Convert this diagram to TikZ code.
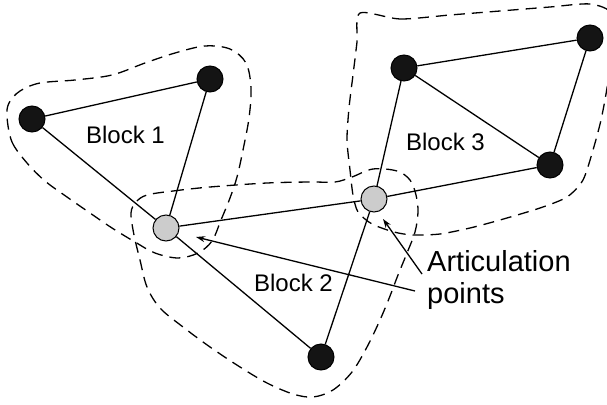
\documentclass[tikz,border=0pt]{standalone}
\usepackage{fontspec}
\setmainfont{Liberation Sans}
\usetikzlibrary{arrows.meta}
\begin{document}
\begin{tikzpicture}[x=1pt,y=-1pt,
  vtx/.style={circle,draw=black,line width=1pt,minimum size=26pt,inner sep=0pt},
  blk/.style={vtx,fill=black!92},
  art/.style={vtx,fill=black!20},
  edge/.style={line width=1.3pt},
  contour/.style={dash pattern=on 11pt off 7pt, line width=1.3pt},
  lbl/.style={font=\fontsize{24}{28}\selectfont, inner sep=0pt, anchor=base},
  pointer/.style={line width=1.3pt,-{Stealth[length=9pt,width=6pt]}}
]
\useasboundingbox (0,0) rectangle (607,404);
\begin{scope}
\clip (0,0) rectangle (607,404);
% Block 1 contour
\draw[contour] plot[smooth cycle, tension=0.55] coordinates {
 (7,117) (12,142) (27,163) (45,181) (67,197) (90,213) (112,228) (135,242)
 (155,253) (178,258) (198,253) (212,241) (221,220) (230,198) (237,177)
 (243,150) (249,118) (251,88) (246,63) (230,49) (205,46) (175,53) (145,63)
 (112,75) (75,80) (40,83) (20,91) (9,103)};
% Block 2 contour
\draw[contour] plot[smooth cycle, tension=0.55] coordinates {
 (147,195) (173,191) (210,187) (267,183) (310,182) (335,182) (352,177)
 (373,169) (397,171) (410,180) (416,195) (418,212) (415,232) (407,253)
 (398,275) (390,296) (380,320) (367,347) (352,372) (333,390) (313,397)
 (293,394) (267,383) (240,367) (210,347) (183,327) (160,308) (147,287)
 (140,260) (134,235) (131,213) (136,202)};
% Block 3 contour
\draw[contour] plot[smooth cycle, tension=0.45] coordinates {
 (360,13) (400,19) (450,15) (500,11) (550,7) (590,4) (612,14) (612,50)
 (607,88) (601,120) (593,150) (583,180) (567,197) (540,208) (500,220)
 (470,228) (440,234) (413,235) (394,232) (372,224) (358,212) (353,195)
 (350,170) (347,140) (349,108) (353,75) (357,42)};
\end{scope}
% vertices
\node[blk] (A) at (32,119) {};
\node[blk] (B) at (210,79) {};
\node[art] (C) at (166,228) {};
\node[art] (D) at (374,199) {};
\node[blk] (E) at (404,68) {};
\node[blk] (F) at (590,38) {};
\node[blk] (G) at (550,165) {};
\node[blk] (H) at (321,357) {};
% edges
\draw[edge] (A) -- (B);
\draw[edge] (A) -- (C);
\draw[edge] (B) -- (C);
\draw[edge] (C) -- (D);
\draw[edge] (C) -- (H);
\draw[edge] (D) -- (H);
\draw[edge] (D) -- (E);
\draw[edge] (D) -- (G);
\draw[edge] (E) -- (F);
\draw[edge] (E) -- (G);
\draw[edge] (F) -- (G);
% labels
\node[lbl] (b1) at (125.5,143) {Block 1};
\node[lbl] (b2) at (293.5,291) {Block 2};
\node[lbl] (b3) at (445.5,150) {Block 3};
\node[anchor=base west, align=left, inner sep=0pt, font=\fontsize{29}{32}\selectfont] (ap) at (427,303) {Articulation\\points};
% pointers
\coordinate (p1s) at (415,291);
\coordinate (p1e) at (196,237);
\coordinate (p2s) at (422,274);
\coordinate (p2e) at (383,219);
\draw[pointer] (p1s) -- (p1e);
\draw[pointer] (p2s) -- (p2e);
\end{tikzpicture}
\end{document}
